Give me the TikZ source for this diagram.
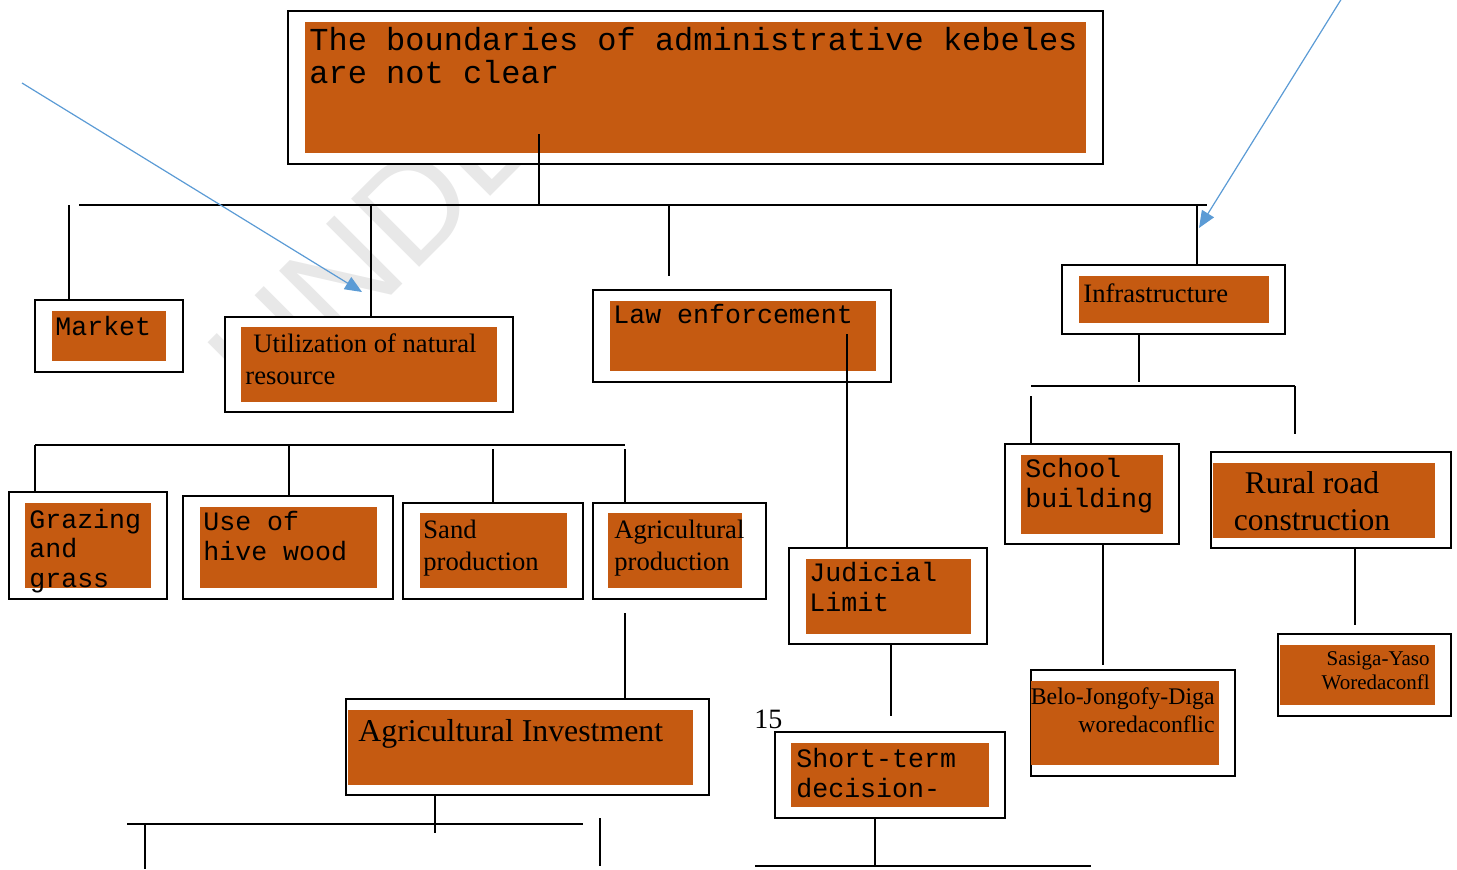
\documentclass[tikz,border=0pt]{standalone}
\usepackage{fontspec}
\setmainfont{Liberation Serif}
\newfontfamily\cour{Liberation Mono}
\newfontfamily\wmfont{Liberation Sans}
\usetikzlibrary{fit,arrows.meta}
\definecolor{kebele}{HTML}{C55A11}
\definecolor{pointer}{HTML}{5B9BD5}
\tikzset{
  frame/.style={draw=black, line width=1pt, fill=white, inner sep=0pt},
  panel/.style={fill=kebele, inner sep=0pt},
  % multi-line texts are placed by the baseline of their last line
  mono/.style={font=\cour\fontsize{13.3}{14.7}\selectfont, align=left, inner sep=0pt, anchor=base west},
  roman/.style={font=\fontsize{13.3}{16}\selectfont, align=left, inner sep=0pt, anchor=base west},
  link/.style={line width=1pt},
  pointer arrow/.style={draw=pointer, line width=0.6pt, -{Triangle[length=8.5pt,width=7pt]}},
}
\begin{document}
\begin{tikzpicture}[x=0.5pt,y=-0.5pt]
  \useasboundingbox (0,0) rectangle (1457,869);
  % watermark behind everything
  \node[font=\wmfont\fontsize{70}{70}\selectfont, text=gray!18, rotate=45, anchor=base west, inner sep=0pt] (wm) at (268,419) {UNDER};

  % top box
  \node[frame, fit={(288,11) (1103,164)}] (title) {};
  \node[panel, fit={(305,22) (1086,153)}] (title-in) {};
  \node[mono, font=\cour\fontsize{16}{16.5}\selectfont] (title-txt) at (309,83) {The boundaries of administrative kebeles\\are not clear};

  % first level
  \node[frame, fit={(35,300) (183,372)}] (market) {};
  \node[panel, fit={(52,311) (166,361)}] (market-in) {};
  \node[mono] (market-txt) at (55,335) {Market};

  \node[frame, fit={(225,317) (513,412)}] (natres) {};
  \node[panel, fit={(241,327) (497,402)}] (natres-in) {};
  \node[roman] (natres-txt) at (245,384) {\hspace*{4pt}Utilization of natural\\resource};

  \node[frame, fit={(593,290) (891,382)}] (law) {};
  \node[panel, fit={(610,301) (876,371)}] (law-in) {};
  \node[mono] (law-txt) at (613,323) {Law enforcement};

  \node[frame, fit={(1062,265) (1285,334)}] (infra) {};
  \node[panel, fit={(1079,276) (1269,323)}] (infra-in) {};
  \node[roman] (infra-txt) at (1083,302) {Infrastructure};

  % natural resource row
  \node[frame, fit={(9,492) (167,599)}] (graze) {};
  \node[panel, fit={(25,503) (151,588)}] (graze-in) {};
  \node[mono] (graze-txt) at (29,587) {Grazing\\and\\grass};

  \node[frame, fit={(183,496) (393,599)}] (hive) {};
  \node[panel, fit={(200,507) (377,588)}] (hive-in) {};
  \node[mono] (hive-txt) at (203,560) {Use of\\hive wood};

  \node[frame, fit={(403,503) (583,599)}] (sand) {};
  \node[panel, fit={(420,513) (567,588)}] (sand-in) {};
  \node[roman] (sand-txt) at (423,570) {Sand\\production};

  \node[frame, fit={(593,503) (766,599)}] (agri) {};
  \node[panel, fit={(608,513) (742,588)}] (agri-in) {};
  \node[roman] (agri-txt) at (614,570) {Agricultural\\production};

  \node[frame, fit={(346,699) (709,795)}] (invest) {};
  \node[panel, fit={(348,710) (693,785)}] (invest-in) {};
  \node[roman, font=\fontsize{15.9}{18}\selectfont] (invest-txt) at (358,741) {Agricultural Investment};

  % law branch
  \node[frame, fit={(789,548) (987,644)}] (judic) {};
  \node[panel, fit={(806,559) (971,634)}] (judic-in) {};
  \node[mono] (judic-txt) at (809,611) {Judicial\\Limit};

  \node[frame, fit={(775,732) (1005,818)}] (short) {};
  \node[panel, fit={(791,743) (989,807)}] (short-in) {};
  \node[mono] (short-txt) at (796,797) {Short-term\\decision-};

  % infrastructure branch
  \node[frame, fit={(1005,444) (1179,544)}] (school) {};
  \node[panel, fit={(1021,455) (1163,534)}] (school-in) {};
  \node[mono] (school-txt) at (1025,507) {School\\building};

  \node[frame, fit={(1211,452) (1451,548)}] (road) {};
  \node[panel, fit={(1213,463) (1435,538)}] (road-in) {};
  \node[roman, font=\fontsize{15.8}{18.5}\selectfont, align=center, anchor=base] (road-txt) at (1312,530) {Rural road\\construction};

  \node[frame, fit={(1031,670) (1235,776)}] (belo) {};
  \node[panel, fit={(1031,681) (1219,765)}] (belo-in) {};
  \node[roman, font=\fontsize{11.9}{14}\selectfont, align=right, anchor=base east] (belo-txt) at (1215,732) {Belo-Jongofy-Diga\\woredaconflic};

  \node[frame, fit={(1278,634) (1451,716)}] (sasiga) {};
  \node[panel, fit={(1280,645) (1435,705)}] (sasiga-in) {};
  \node[roman, font=\fontsize{10.5}{12}\selectfont, align=right, anchor=base east] (sasiga-txt) at (1430,689) {Sasiga-Yaso\\Woredaconfl};

  \node[font=\fontsize{14}{14}\selectfont, anchor=base west, inner sep=0pt] (pageno) at (754,728) {15};

  % main bus under the top box
  \coordinate (t1) at (539,134);
  \coordinate (busL) at (79,205);
  \coordinate (busR) at (1207,205);
  \draw[link] (busL) -- (busR);
  \draw[link] (t1) -- (t1 |- busL);
  \coordinate (m1) at (69,205);
  \draw[link] (m1) -- (m1 |- market.north);
  \coordinate (n1) at (371,205);
  \draw[link] (n1) -- (n1 |- natres.north);
  \coordinate (l1) at (669,205);
  \coordinate (l2) at (669,276);
  \draw[link] (l1) -- (l2);
  \coordinate (i1) at (1197,205);
  \draw[link] (i1) -- (i1 |- infra.north);

  % natural resource row
  \coordinate (rowL) at (35,445);
  \coordinate (rowR) at (625,445);
  \draw[link] (rowL) -- (rowR);
  \draw[link] (rowL) -- (rowL |- graze.north);
  \coordinate (h1) at (289,445);
  \draw[link] (h1) -- (h1 |- hive.north);
  \coordinate (s1) at (493,449);
  \draw[link] (s1) -- (s1 |- sand.north);
  \coordinate (a1) at (625,449);
  \draw[link] (a1) -- (a1 |- agri.north);
  \coordinate (a2) at (625,613);
  \draw[link] (a2) -- (a2 |- invest.north);

  % under the investment box
  \coordinate (v1) at (435,833);
  \draw[link] (v1 |- invest.south) -- (v1);
  \coordinate (lowL) at (127,824);
  \coordinate (lowR) at (583,824);
  \draw[link] (lowL) -- (lowR);
  \coordinate (d1) at (145,824);
  \coordinate (d2) at (145,869);
  \draw[link] (d1) -- (d2);
  \coordinate (d3) at (600,818);
  \coordinate (d4) at (600,866);
  \draw[link] (d3) -- (d4);

  % law branch
  \coordinate (j1) at (847,334);
  \draw[link] (j1) -- (j1 |- judic.north);
  \coordinate (j2) at (891,716);
  \draw[link] (j2 |- judic.south) -- (j2);
  \coordinate (k1) at (875,866);
  \draw[link] (k1 |- short.south) -- (k1);
  \coordinate (kL) at (755,866);
  \coordinate (kR) at (1091,866);
  \draw[link] (kL) -- (kR);

  % infrastructure branch
  \coordinate (f1) at (1139,382);
  \draw[link] (f1 |- infra.south) -- (f1);
  \coordinate (fL) at (1031,386);
  \coordinate (fR) at (1295,386);
  \draw[link] (fL) -- (fR);
  \coordinate (f2) at (1031,396);
  \draw[link] (f2) -- (f2 |- school.north);
  \coordinate (f3) at (1295,434);
  \draw[link] (fR) -- (f3);
  \coordinate (b1) at (1103,665);
  \draw[link] (b1 |- school.south) -- (b1);
  \coordinate (r1) at (1355,625);
  \draw[link] (r1 |- road.south) -- (r1);

  % blue pointers
  \coordinate (pA) at (22,83);
  \coordinate (pA-tip) at (362,292);
  \draw[pointer arrow] (pA) -- (pA-tip);
  \coordinate (pB) at (1342,-2);
  \coordinate (pB-tip) at (1199,228);
  \draw[pointer arrow] (pB) -- (pB-tip);
\end{tikzpicture}
\end{document}
